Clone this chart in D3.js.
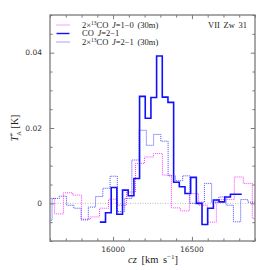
<!DOCTYPE html>
<html>
<head>
<meta charset="utf-8">
<script src="https://cdn.jsdelivr.net/npm/d3@7"></script>
<style>
  body { margin: 0; background: #fff; }
  svg { display: block; }
</style>
</head>
<body>
<div id="chart"></div>
<script>
// channel edges (km/s) and antenna temperatures (K)
const co21Edges = [15916, 15952, 15988, 16024, 16060, 16096, 16132, 16168, 16204, 16240,
  16276, 16312, 16348, 16384, 16420, 16456, 16492, 16528, 16564, 16600,
  16636, 16672, 16708, 16744, 16780, 16816];
const co21T = [-0.005, -0.0025, 0.0042, -0.0029, 0.0035, 0.002, 0.0066, 0.0284, 0.0226, 0.0281,
  0.0391, 0.0282, 0.0268, 0.0056, 0.0044, 0.0026, 0.0069, 0.0, -0.0056, -0.0013,
  0.0009, 0.0004, 0.0017, 0.0024, 0.0024];

const co13_21Edges = [15567, 15613, 15659, 15705, 15751, 15797, 15843, 15889, 15935, 15981,
  16027, 16073, 16119, 16165, 16211, 16257, 16303, 16349, 16395, 16441,
  16487, 16533, 16579, 16625, 16671, 16717, 16763, 16809, 16855, 16901];
const co13_21T = [-0.0045, 0.0013, 0.0019, -0.0005, -0.0013, -0.0044, -0.001, 0.0018, 0.004, 0.0072,
  -0.0022, 0.0013, 0.0115, 0.0194, 0.0154, 0.0183, 0.0165, 0.0073, 0.006, 0.0073,
  0.0, 0.0003, 0.0053, 0.0003, 0.0017, -0.0005, -0.0049, 0.001, 0.0003];

const co13_10Edges = [15572, 15629, 15686, 15743, 15800, 15857, 15914, 15971, 16028, 16085,
  16142, 16199, 16256, 16313, 16370, 16427, 16484, 16541, 16598, 16655,
  16712, 16769, 16826, 16883, 16940];
const co13_10T = [0.0013, -0.0028, 0.0028, 0.0022, -0.0042, -0.0036, -0.0013, 0.0011, -0.0005, 0.003,
  0.0106, 0.0123, 0.0132, 0.0075, -0.0012, -0.002, 0.0026, -0.0005, -0.005, 0.001,
  0.001, 0.007, 0.0053, -0.004];

const xMajor = [16000, 16500];
const yMajor = [0, 0.02, 0.04];

const W = 270, H = 270;
const frame = { left: 50, right: 255, top: 15, bottom: 241 };

const x = d3.scaleLinear().domain([15600, 16900]).range([frame.left, frame.right]);
const y = d3.scaleLinear().domain([-0.01, 0.05]).range([frame.bottom, frame.top]);

const svg = d3.select("#chart").append("svg")
  .attr("width", W).attr("height", H);

svg.append("defs").append("clipPath").attr("id", "plotclip")
  .append("rect")
  .attr("x", frame.left).attr("y", frame.top)
  .attr("width", frame.right - frame.left).attr("height", frame.bottom - frame.top);

const serif = "'Liberation Serif', 'DejaVu Serif', serif";
const sans = "'DejaVu Sans', sans-serif";
const axisGrey = "#7a7a7a";
const magenta = "#ff3cff", dotBlue = "#4848ff", solidBlue = "#1010ff";

// zero line
svg.append("line")
  .attr("x1", frame.left).attr("x2", frame.right)
  .attr("y1", y(0)).attr("y2", y(0))
  .attr("stroke", "#aaa").attr("stroke-width", 0.8)
  .attr("stroke-dasharray", "1,1.5");

// spectra as histograms
function stepPoints(edges, vals) {
  const pts = vals.map((t, i) => [edges[i], t]);
  pts.push([edges[edges.length - 1], vals[vals.length - 1]]);
  return pts;
}
const step = d3.line()
  .x(d => x(d[0]))
  .y(d => y(d[1]))
  .curve(d3.curveStepAfter);

const spectra = svg.append("g").attr("clip-path", "url(#plotclip)").attr("fill", "none");

spectra.append("path")
  .attr("d", step(stepPoints(co13_10Edges, co13_10T)))
  .attr("stroke", magenta).attr("stroke-width", 1)
  .attr("stroke-dasharray", "1,1");

spectra.append("path")
  .attr("d", step(stepPoints(co13_21Edges, co13_21T)))
  .attr("stroke", dotBlue).attr("stroke-width", 1)
  .attr("stroke-dasharray", "1,1");

spectra.append("path")
  .attr("d", step(stepPoints(co21Edges, co21T)))
  .attr("stroke", solidBlue).attr("stroke-width", 1.6);

// frame and inward ticks on all sides
function tickAxis(axisFn, scale, values, size) {
  return axisFn(scale).tickValues(values).tickSizeInner(size).tickSizeOuter(0).tickFormat("");
}
const xMinor = d3.range(15600, 16901, 100).filter(v => !xMajor.includes(v));
const yMinor = d3.range(-0.01, 0.0501, 0.005).map(v => +v.toFixed(3)).filter(v => !yMajor.includes(v));

const axes = [
  [d3.axisBottom, x, `translate(0,${frame.bottom})`, true],
  [d3.axisTop, x, `translate(0,${frame.top})`, true],
  [d3.axisLeft, y, `translate(${frame.left},0)`, false],
  [d3.axisRight, y, `translate(${frame.right},0)`, false]
];
axes.forEach(([fn, sc, tr, isX]) => {
  const major = isX ? xMajor : yMajor;
  const minor = isX ? xMinor : yMinor;
  const gMin = svg.append("g").attr("transform", tr).call(tickAxis(fn, sc, minor, -2.6));
  const gMaj = svg.append("g").attr("transform", tr).call(tickAxis(fn, sc, major, -4.2));
  [gMin, gMaj].forEach(g => {
    g.select(".domain").remove();
    g.selectAll("line").attr("stroke", axisGrey).attr("stroke-width", 1);
    g.selectAll("text").remove();
  });
});

svg.append("rect")
  .attr("x", frame.left).attr("y", frame.top)
  .attr("width", frame.right - frame.left).attr("height", frame.bottom - frame.top)
  .attr("fill", "none").attr("stroke", axisGrey).attr("stroke-width", 1.3);

// tick labels
svg.append("g").selectAll("text").data(xMajor).enter().append("text")
  .attr("x", d => x(d)).attr("y", 252)
  .attr("text-anchor", "middle")
  .attr("font-family", sans).attr("font-size", 7.5).attr("fill", "#333")
  .text(d => d);

svg.append("g").selectAll("text").data(yMajor).enter().append("text")
  .attr("x", 42).attr("y", d => y(d)).attr("dy", "0.35em")
  .attr("text-anchor", "end")
  .attr("font-family", sans).attr("font-size", 7.5).attr("fill", "#333")
  .text(d => d === 0 ? "0" : d.toFixed(2));

// axis titles
const xt = svg.append("text")
  .attr("x", 153).attr("y", 263)
  .attr("text-anchor", "middle")
  .attr("font-family", serif).attr("font-size", 10.5).attr("fill", "#222")
  .attr("word-spacing", 2);
xt.append("tspan").attr("font-style", "italic").text("cz");
xt.append("tspan").text(" [km s");
xt.append("tspan").attr("font-size", 7).attr("dy", -4).text("−1");
xt.append("tspan").attr("dy", 4).text("]");

const yt = svg.append("text")
  .attr("transform", `translate(18,${(frame.top + frame.bottom) / 2}) rotate(-90)`)
  .attr("text-anchor", "middle")
  .attr("font-family", serif).attr("font-size", 10).attr("fill", "#222");
yt.append("tspan").attr("font-style", "italic").text("T");
yt.append("tspan").attr("font-size", 6.5).attr("dy", -4).text("*");
yt.append("tspan").attr("font-size", 6.5).attr("dx", -3).attr("dy", 7).text("A");
yt.append("tspan").attr("dy", -3).text(" [K]");

// legend
const legendRows = [
  { color: magenta, dash: "1,1", width: 1.2, parts: [["2×"], ["13", "sup"], ["CO "], ["J", "it"], ["=1−0 (30m)"]] },
  { color: solidBlue, dash: null, width: 1.4, parts: [["CO "], ["J", "it"], ["=2−1"]] },
  { color: dotBlue, dash: "1,1", width: 1.2, parts: [["2×"], ["13", "sup"], ["CO "], ["J", "it"], ["=2−1 (30m)"]] }
];
const lg = svg.append("g");
legendRows.forEach((row, i) => {
  const yy = [25, 33.5, 42][i];
  lg.append("line")
    .attr("x1", 56.5).attr("x2", 69.5).attr("y1", yy).attr("y2", yy)
    .attr("stroke", row.color).attr("stroke-width", row.width)
    .attr("stroke-dasharray", row.dash);
  const t = lg.append("text")
    .attr("x", 82).attr("y", yy).attr("dy", "0.33em")
    .attr("font-family", serif).attr("font-size", 8.5).attr("fill", "#222")
    .attr("word-spacing", 1.5);
  let raised = false;
  row.parts.forEach(([s, kind]) => {
    const sp = t.append("tspan").text(s);
    if (kind === "sup") { sp.attr("font-size", 5.5).attr("dy", -3); raised = true; }
    else if (raised) { sp.attr("dy", 3); raised = false; }
    if (kind === "it") sp.attr("font-style", "italic");
  });
});

svg.append("text")
  .attr("x", 247).attr("y", 25).attr("dy", "0.33em")
  .attr("text-anchor", "end")
  .attr("font-family", serif).attr("font-size", 8.5).attr("fill", "#222")
  .attr("word-spacing", 1.5)
  .text("VII Zw 31");
</script>
</body>
</html>
